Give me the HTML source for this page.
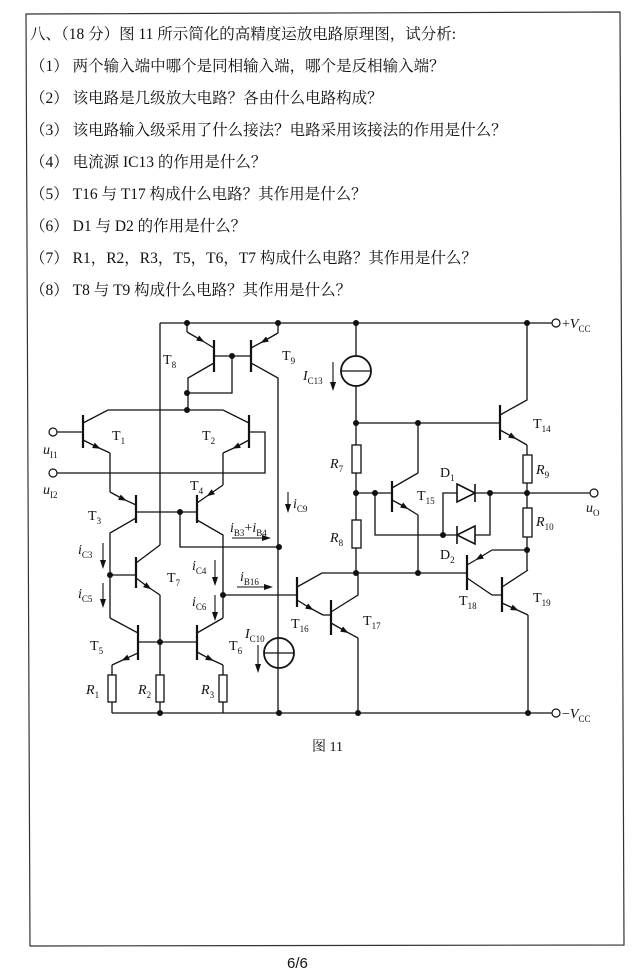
<!DOCTYPE html>
<html><head><meta charset="utf-8"><style>
body{margin:0;background:#fff;}
svg{display:block}
.t{font-family:"Liberation Serif","Noto Serif CJK SC","Noto Sans CJK SC",serif;font-size:15.5px;fill:#111}
.l{font-family:"Liberation Serif",serif;font-size:14px;fill:#111}
.i{font-style:italic}
</style></head><body>
<svg width="642" height="980" viewBox="0 0 642 980" xmlns="http://www.w3.org/2000/svg">
<defs>
<marker id="a" markerWidth="8" markerHeight="6" refX="4" refY="3" orient="auto" markerUnits="userSpaceOnUse"><path d="M0,0 L8,3 L0,6 Z" fill="#111"/></marker>
</defs>
<rect width="642" height="980" fill="#fff"/>
<path d="M26,14 L620,12 L624,945 L30,946 Z" fill="none" stroke="#333" stroke-width="1.2"/>
<g class="t">
<text x="30" y="39">八、（18 分）图 11 所示简化的高精度运放电路原理图，试分析:</text>
<text x="30" y="71">（1）  两个输入端中哪个是同相输入端，哪个是反相输入端？</text>
<text x="30" y="103">（2）  该电路是几级放大电路？各由什么电路构成？</text>
<text x="30" y="135">（3）  该电路输入级采用了什么接法？电路采用该接法的作用是什么？</text>
<text x="30" y="167">（4）  电流源 IC13 的作用是什么？</text>
<text x="30" y="199">（5）  T16 与 T17 构成什么电路？其作用是什么？</text>
<text x="30" y="231">（6）  D1 与 D2 的作用是什么？</text>
<text x="30" y="263">（7）  R1，R2，R3，T5，T6，T7 构成什么电路？其作用是什么？</text>
<text x="30" y="295">（8）  T8 与 T9 构成什么电路？其作用是什么？</text>
<text x="312" y="751" font-size="14">图 11</text>
<text x="287" y="968" font-size="15" font-family="Liberation Sans,sans-serif">6/6</text>
</g>
<g stroke="#111" stroke-width="1.3" fill="none">
<path d="M160,323 H552 M112,713 H552"/>
<path d="M160,323 V545"/>
<path d="M214,340 V372 M251,340 V372" stroke-width="2.2"/>
<path d="M187,323 V332"/><path d="M187,332 L201,340 L214,348" marker-mid="url(#a)"/>
<path d="M214,363 L188,378 V410 M214,356 H251 M232,356 V393 H187"/>
<path d="M278,323 V333"/><path d="M278,333 L264,341 L251,348" marker-mid="url(#a)"/>
<path d="M251,363 L278,378 V713"/>
<path d="M83,415 V448 M249,415 V448" stroke-width="2.2"/>
<path d="M57,432 H83 M83,423 L108,410 H223 L249,423"/>
<path d="M83,440 L97,447 L110,453" marker-mid="url(#a)"/>
<path d="M249,440 L236,447 L223,453" marker-mid="url(#a)"/>
<path d="M249,432 H265 V473 H57"/>
<path d="M110,453 V492 M223,453 V485"/>
<path d="M136,495 V523 M197,495 V523" stroke-width="2.2"/>
<path d="M110,492 L123,499 L136,505" marker-mid="url(#a)"/>
<path d="M223,485 L210,494 L197,503" marker-mid="url(#a)"/>
<path d="M136,512 H197 M180,512 V547 H279"/>
<path d="M136,518 L110,533 V618 M197,520 L223,535 V618"/>
<path d="M136,557 V588" stroke-width="2.2"/>
<path d="M110,575 H136 M136,563 L160,545"/>
<path d="M136,578 L148,587 L160,595" marker-mid="url(#a)"/>
<path d="M160,595 V642"/>
<path d="M138,625 V660 M197,625 V660" stroke-width="2.2"/>
<path d="M110,618 L138,633 M223,618 L197,633 M138,642 H197 M160,642 V675 M160,702 V713"/>
<path d="M138,653 L125,659 L112,665" marker-mid="url(#a)"/>
<path d="M197,652 L210,659 L223,665" marker-mid="url(#a)"/>
<path d="M112,665 V675 M112,702 V713 M223,665 V675 M223,702 V713"/>
<rect x="108" y="675" width="8" height="27"/><rect x="156" y="675" width="8" height="27"/><rect x="219" y="675" width="8" height="27"/>
<circle cx="279" cy="653" r="15" stroke-width="1.8"/><path d="M264,653 H294"/>
<path d="M297,577 V607 M331,600 V635" stroke-width="2.2"/>
<path d="M223,595 H297 M297,587 L322,573 H467"/>
<path d="M297,600 L310,608 L323,615" marker-mid="url(#a)"/><path d="M323,615 H331"/>
<path d="M331,612 L358,595 V573"/>
<path d="M331,623 L345,631 L358,638" marker-mid="url(#a)"/><path d="M358,638 V713"/>
<path d="M356,323 V356 M356,386 V445 M356,473 V520 M356,548 V573"/>
<circle cx="356" cy="371" r="15" stroke-width="1.8"/><path d="M341,371 H371"/>
<rect x="352" y="445" width="9" height="28"/><rect x="352" y="520" width="9" height="28"/>
<path d="M356,423 H500"/>
<path d="M392,481 V512" stroke-width="2.2"/>
<path d="M356,493 H392 M392,488 L418,473 V423"/>
<path d="M392,500 L405,507 L418,515" marker-mid="url(#a)"/><path d="M418,515 V573"/>
<path d="M375,493 V535 H457 M443,535 V493 H457 M475,493 H590 M490,493 V535 H475"/>
<path d="M457,484 L475,493 L457,502 Z M475,484 V502" stroke-width="1.6"/>
<path d="M475,526 L457,535 L475,544 Z M457,526 V544" stroke-width="1.6"/>
<path d="M500,405 V440" stroke-width="2.2"/>
<path d="M500,415 L527,400 V323"/>
<path d="M500,430 L513,437 L527,445" marker-mid="url(#a)"/>
<path d="M527,445 V455 M527,483 V508 M527,537 V570"/>
<rect x="523" y="455" width="9" height="28"/><rect x="523" y="508" width="9" height="29"/>
<path d="M467,555 V590 M502,577 V612" stroke-width="2.2"/>
<path d="M527,550 H492"/><path d="M492,550 L479,558 L467,565" marker-mid="url(#a)"/>
<path d="M467,578 L492,595 H502 M502,587 L528,570"/>
<path d="M502,603 L515,609 L528,615" marker-mid="url(#a)"/><path d="M528,615 V713"/>
<path d="M333,362 V384 M288,492 V506 M103,543 V562 M103,583 V601 M215,560 V579 M215,595 V614 M258,645 V666 M232,538 H264 M237,587 H266" stroke-width="1.1"/>
</g>
<g fill="#111">
<path d="M330,382 L336,382 L333,391 Z M285,504 L291,504 L288,513 Z M100,560 L106,560 L103,569 Z M100,599 L106,599 L103,608 Z M212,577 L218,577 L215,586 Z M212,612 L218,612 L215,621 Z M255,664 L261,664 L258,673 Z M262,535 L262,541 L271,538 Z M264,584 L264,590 L273,587 Z"/>
<circle cx="187" cy="323" r="3"/><circle cx="278" cy="323" r="3"/><circle cx="356" cy="323" r="3"/><circle cx="527" cy="323" r="3"/>
<circle cx="232" cy="356" r="3"/><circle cx="187" cy="393" r="3"/><circle cx="187" cy="410" r="3"/>
<circle cx="180" cy="512" r="3"/><circle cx="279" cy="547" r="3"/><circle cx="110" cy="575" r="3"/><circle cx="223" cy="595" r="3"/>
<circle cx="160" cy="642" r="3"/><circle cx="160" cy="713" r="3"/><circle cx="279" cy="713" r="3"/><circle cx="358" cy="713" r="3"/><circle cx="528" cy="713" r="3"/>
<circle cx="356" cy="423" r="3"/><circle cx="418" cy="423" r="3"/><circle cx="356" cy="493" r="3"/><circle cx="375" cy="493" r="3"/>
<circle cx="443" cy="535" r="3"/><circle cx="490" cy="493" r="3"/><circle cx="527" cy="493" r="3"/><circle cx="527" cy="550" r="3"/>
<circle cx="356" cy="573" r="3"/><circle cx="418" cy="573" r="3"/>
</g>
<g fill="#fff" stroke="#111" stroke-width="1.2">
<circle cx="53" cy="432" r="4"/><circle cx="53" cy="473" r="4"/><circle cx="556" cy="323" r="4"/><circle cx="556" cy="713" r="4"/><circle cx="594" cy="493" r="4"/>
</g>
<g class="l">
<text x="163" y="364">T<tspan font-size="9" dy="4">8</tspan></text>
<text x="282" y="360">T<tspan font-size="9" dy="4">9</tspan></text>
<text x="303" y="380" class="i">I<tspan font-size="9" dy="4" font-style="normal">C13</tspan></text>
<text x="112" y="440">T<tspan font-size="9" dy="4">1</tspan></text>
<text x="202" y="440">T<tspan font-size="9" dy="4">2</tspan></text>
<text x="43" y="454" class="i">u<tspan font-size="9" dy="4" font-style="normal">I1</tspan></text>
<text x="43" y="494" class="i">u<tspan font-size="9" dy="4" font-style="normal">I2</tspan></text>
<text x="190" y="490">T<tspan font-size="9" dy="4">4</tspan></text>
<text x="88" y="520">T<tspan font-size="9" dy="4">3</tspan></text>
<text x="293" y="508" class="i">i<tspan font-size="9" dy="4" font-style="normal">C9</tspan></text>
<text x="230" y="532" class="i">i<tspan font-size="9" dy="4" font-style="normal">B3</tspan><tspan dy="-4" font-style="normal">+</tspan>i<tspan font-size="9" dy="4" font-style="normal">B4</tspan></text>
<text x="78" y="554" class="i">i<tspan font-size="9" dy="4" font-style="normal">C3</tspan></text>
<text x="78" y="598" class="i">i<tspan font-size="9" dy="4" font-style="normal">C5</tspan></text>
<text x="167" y="582">T<tspan font-size="9" dy="4">7</tspan></text>
<text x="192" y="570" class="i">i<tspan font-size="9" dy="4" font-style="normal">C4</tspan></text>
<text x="192" y="606" class="i">i<tspan font-size="9" dy="4" font-style="normal">C6</tspan></text>
<text x="240" y="581" class="i">i<tspan font-size="9" dy="4" font-style="normal">B16</tspan></text>
<text x="90" y="650">T<tspan font-size="9" dy="4">5</tspan></text>
<text x="229" y="650">T<tspan font-size="9" dy="4">6</tspan></text>
<text x="245" y="638" class="i">I<tspan font-size="9" dy="4" font-style="normal">C10</tspan></text>
<text x="291" y="628">T<tspan font-size="9" dy="4">16</tspan></text>
<text x="363" y="625">T<tspan font-size="9" dy="4">17</tspan></text>
<text x="86" y="694" class="i">R<tspan font-size="9" dy="4" font-style="normal">1</tspan></text>
<text x="138" y="694" class="i">R<tspan font-size="9" dy="4" font-style="normal">2</tspan></text>
<text x="201" y="694" class="i">R<tspan font-size="9" dy="4" font-style="normal">3</tspan></text>
<text x="330" y="468" class="i">R<tspan font-size="9" dy="4" font-style="normal">7</tspan></text>
<text x="330" y="542" class="i">R<tspan font-size="9" dy="4" font-style="normal">8</tspan></text>
<text x="536" y="474" class="i">R<tspan font-size="9" dy="4" font-style="normal">9</tspan></text>
<text x="536" y="526" class="i">R<tspan font-size="9" dy="4" font-style="normal">10</tspan></text>
<text x="533" y="428">T<tspan font-size="9" dy="4">14</tspan></text>
<text x="417" y="500">T<tspan font-size="9" dy="4">15</tspan></text>
<text x="440" y="477">D<tspan font-size="9" dy="4">1</tspan></text>
<text x="440" y="559">D<tspan font-size="9" dy="4">2</tspan></text>
<text x="459" y="605">T<tspan font-size="9" dy="4">18</tspan></text>
<text x="533" y="602">T<tspan font-size="9" dy="4">19</tspan></text>
<text x="586" y="512" class="i">u<tspan font-size="9" dy="4" font-style="normal">O</tspan></text>
<text x="562" y="328">+<tspan class="i">V</tspan><tspan font-size="9" dy="4">CC</tspan></text>
<text x="562" y="718">−<tspan class="i">V</tspan><tspan font-size="9" dy="4">CC</tspan></text>
</g>
</svg>
</body></html>
